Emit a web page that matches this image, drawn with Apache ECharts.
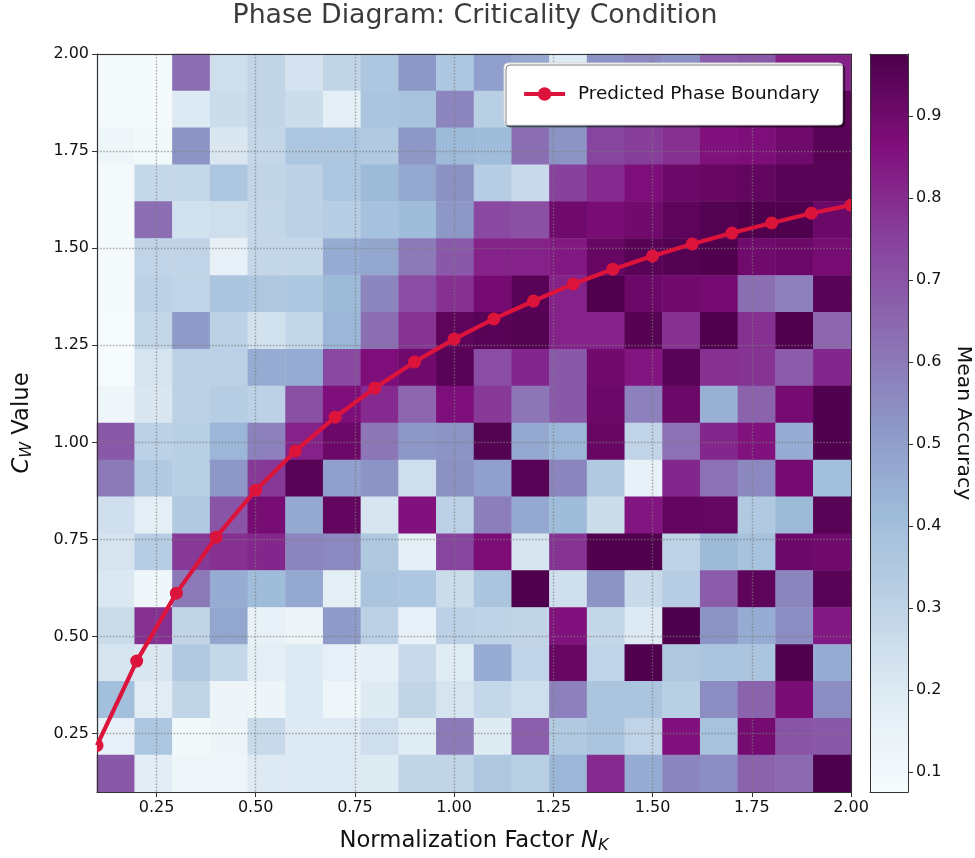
<!DOCTYPE html>
<html><head><meta charset="utf-8">
<style>html,body{margin:0;padding:0;background:#fff}#c{width:975px;height:858px}</style>
<script src="https://cdn.jsdelivr.net/npm/echarts@6/dist/echarts.min.js"></script>
</head><body><div id="c"></div>
<script>
const seriesName = 'Predicted Phase Boundary';
const titleText = 'Phase Diagram: Criticality Condition';
const tickLabels = [0.25,0.5,0.75,1.0,1.25,1.5,1.75,2.0];
const colorbarTicks = [0.1,0.2,0.3,0.4,0.5,0.6,0.7,0.8,0.9];
const bupu = ['#f7fcfd','#e0ecf4','#bfd3e6','#9ebcda','#8c96c6','#8c6bb1','#88419d','#810f7c','#4d004b'];
// Mean accuracy, rows from the top (Cw = 2.0) downwards, columns from Nk = 0.1
const accuracyRows = [
[.09,.09,.63,.25,.29,.23,.29,.36,.52,.36,.50,.47,.20,.53,.56,.54,.67,.69,.82,.82],
[.09,.09,.20,.26,.29,.26,.17,.37,.38,.57,.32,.42,.45,.62,.70,.74,.80,.84,.88,.94],
[.12,.10,.53,.21,.285,.36,.36,.35,.52,.42,.41,.63,.53,.74,.76,.79,.86,.87,.90,.95],
[.09,.28,.28,.36,.29,.31,.36,.42,.47,.54,.33,.27,.75,.80,.87,.91,.92,.93,.95,.95],
[.09,.63,.24,.25,.285,.31,.33,.39,.41,.52,.73,.71,.90,.88,.90,.94,.96,.97,.97,.91],
[.09,.295,.295,.16,.285,.285,.46,.48,.60,.69,.82,.82,.84,.92,.95,.96,.97,.90,.91,.885],
[.09,.31,.295,.37,.355,.36,.42,.57,.72,.79,.89,.95,.82,.97,.91,.90,.89,.63,.58,.95],
[.08,.285,.51,.31,.24,.285,.43,.63,.78,.94,.95,.96,.82,.82,.955,.79,.97,.79,.97,.65],
[.08,.225,.31,.31,.46,.46,.73,.87,.90,.95,.72,.81,.69,.90,.85,.95,.79,.78,.68,.81],
[.12,.21,.31,.33,.31,.71,.87,.80,.65,.87,.77,.61,.69,.91,.58,.91,.45,.66,.89,.97],
[.69,.31,.32,.43,.58,.82,.91,.61,.52,.53,.96,.47,.43,.92,.295,.62,.81,.86,.46,.97],
[.60,.35,.32,.52,.77,.95,.50,.53,.25,.54,.50,.95,.57,.345,.155,.81,.62,.56,.89,.40],
[.245,.175,.35,.70,.885,.47,.93,.22,.86,.31,.59,.47,.41,.26,.85,.93,.925,.345,.42,.95],
[.225,.33,.77,.79,.81,.57,.56,.355,.175,.74,.875,.22,.78,.97,.97,.30,.42,.385,.91,.90],
[.205,.11,.60,.46,.41,.47,.17,.37,.36,.265,.37,.97,.245,.53,.27,.33,.68,.94,.57,.95],
[.265,.79,.29,.48,.155,.125,.51,.31,.15,.31,.30,.29,.86,.285,.20,.976,.53,.46,.55,.84],
[.225,.21,.35,.28,.175,.20,.16,.165,.27,.19,.46,.295,.92,.295,.97,.355,.37,.37,.97,.46],
[.40,.185,.29,.125,.125,.20,.12,.195,.29,.225,.28,.25,.58,.37,.37,.32,.55,.66,.88,.55],
[.16,.36,.10,.125,.27,.20,.20,.25,.19,.60,.195,.67,.345,.37,.295,.86,.385,.89,.70,.69],
[.69,.18,.115,.12,.20,.20,.20,.195,.29,.29,.355,.32,.43,.80,.46,.57,.55,.66,.64,.976]
];
const boundaryX = [.1,.2,.3,.4,.5,.6,.7,.8,.9,1.0,1.1,1.2,1.3,1.4,1.5,1.6,1.7,1.8,1.9,2.0];
const boundaryY = [.22,.437,.612,.756,.877,.978,1.065,1.14,1.207,1.266,1.318,1.364,1.408,1.446,1.48,1.511,1.539,1.565,1.59,1.611];

const colIdx = accuracyRows[0].map((_, i) => String(i));
const rowIdx = accuracyRows.map((_, i) => String(i));
const cells = [];
accuracyRows.forEach((r, y) => r.forEach((v, x) => cells.push([x, y, v])));
const lastIdx = boundaryX.length - 1;
const crimson = '#DC143C';
// The two end markers sit on the plot edge and are cut by it, so they go in a clipped series.
const innerPoints = boundaryX.map((x, i) => (i === 0 || i === lastIdx)
  ? {value:[x, boundaryY[i]], symbol:'none'} : [x, boundaryY[i]]);
const endPoints = [[boundaryX[0], boundaryY[0]], [boundaryX[lastIdx], boundaryY[lastIdx]]];

const ink = '#111';
const spine = '#333';
const gridLine = {show:true, customValues:tickLabels, lineStyle:{color:'rgba(125,125,125,0.72)', width:1.4, type:[1.4,1.8]}};
const tick = {show:true, customValues:tickLabels, length:5, lineStyle:{color:spine, width:1}, inside:false};
const label = {show:true, customValues:tickLabels, color:ink, fontSize:16, fontFamily:'DejaVu Sans', margin:8,
  formatter:v=>Number(v).toFixed(2)};
const nameRich = {
  n:{fontFamily:'DejaVu Sans',fontSize:22.7,color:ink},
  i:{fontFamily:'DejaVu Sans', fontStyle:'italic', fontSize:22.7, color:ink},
  s:{fontFamily:'DejaVu Sans', fontStyle:'italic', fontSize:16, color:ink, verticalAlign:'bottom', padding:[9,0,0,0]}
};
const hidden = {show:false};
const chart = echarts.init(document.getElementById('c'), null, {renderer:'canvas'});
chart.setOption({
  animation:false,
  backgroundColor:'#fff',
  title:{text:titleText, left:470, top:-2, textAlign:'center',
    textStyle:{fontFamily:'DejaVu Sans', fontWeight:'normal', fontSize:26.8, color:'#3b3b3b'}},
  grid:[
    {left:97, top:54, width:754, height:738, containLabel:false, outerBoundsMode:'none'},
    {left:870, top:54, width:38, height:738, containLabel:false, outerBoundsMode:'none'}
  ],
  xAxis:[
    {gridIndex:0, type:'category', data:colIdx, position:'top', axisLine:{show:true,lineStyle:{color:spine,width:1}}, axisTick:hidden, axisLabel:hidden, splitLine:hidden, z:6},
    {gridIndex:0, type:'value', min:0.1, max:2.0, position:'bottom', axisLine:{show:true,onZero:false,lineStyle:{color:spine,width:1.2}},
      axisTick:tick, axisLabel:label, splitLine:gridLine, z:6,
      name:'{n|Normalization Factor }{i|N}{s|K}', nameLocation:'middle', nameGap:37,
      nameTextStyle:{rich:nameRich}},
    {gridIndex:1, type:'value', min:0, max:1, position:'bottom', axisLine:{show:true,onZero:false,lineStyle:{color:spine,width:1}}, axisTick:hidden, axisLabel:hidden, splitLine:hidden, z:6},
    {gridIndex:1, type:'value', min:0, max:1, position:'top', axisLine:{show:true,onZero:false,lineStyle:{color:spine,width:1}}, axisTick:hidden, axisLabel:hidden, splitLine:hidden, z:6}
  ],
  yAxis:[
    {gridIndex:0, type:'category', data:rowIdx, inverse:true, position:'right', axisLine:{show:true,lineStyle:{color:spine,width:1}}, axisTick:hidden, axisLabel:hidden, splitLine:hidden, z:6},
    {gridIndex:0, type:'value', min:0.1, max:2.0, position:'left', axisLine:{show:true,onZero:false,lineStyle:{color:spine,width:1.2}},
      axisTick:tick, axisLabel:Object.assign({}, label, {padding:[4,0,0,0]}), splitLine:gridLine, z:6,
      name:'{i|C}{s|W}{n| Value}', nameLocation:'middle', nameGap:62,
      nameTextStyle:{rich:nameRich}},
    {gridIndex:1, type:'value', min:0.076, max:0.976, position:'right', axisLine:{show:true,onZero:false,lineStyle:{color:spine,width:1}},
      axisTick:{show:true, customValues:colorbarTicks, length:5, lineStyle:{color:spine,width:1}},
      axisLabel:{show:true, customValues:colorbarTicks, color:ink, fontSize:16, fontFamily:'DejaVu Sans', margin:8, padding:[4,0,0,0], formatter:v=>Number(v).toFixed(1)},
      splitLine:hidden, z:6,
      name:'Mean Accuracy', nameLocation:'middle', nameGap:45, nameRotate:-90,
      nameTextStyle:{fontFamily:'DejaVu Sans', fontSize:20.3, color:ink}},
    {gridIndex:1, type:'value', min:0.076, max:0.976, position:'left', axisLine:{show:true,onZero:false,lineStyle:{color:spine,width:1}}, axisTick:hidden, axisLabel:hidden, splitLine:hidden, z:6}
  ],
  visualMap:{type:'continuous', seriesIndex:0, dimension:2, min:0.076, max:0.976, calculable:false, realtime:false,
    left:870, top:54, itemWidth:38, itemHeight:738, padding:0, text:null, showLabel:false,
    textStyle:{color:'transparent', fontSize:1}, handleSize:0, indicatorSize:0, inRange:{color:bupu}},
  legend:{show:true, left:504, top:63, data:[seriesName], itemWidth:41, itemHeight:17,
    padding:[22,23,22,18], backgroundColor:'#fff', borderColor:'#d5d5d5', borderWidth:1, borderRadius:4,
    shadowColor:'rgba(0,0,0,0.5)', shadowBlur:0, shadowOffsetX:2, shadowOffsetY:2, z:20,
    lineStyle:{width:4.2, color:crimson}, itemStyle:{color:crimson},
    textStyle:{fontFamily:'DejaVu Sans', fontSize:18.4, color:'#111', padding:[0,0,0,8]}},
  series:[
    {type:'heatmap', xAxisIndex:0, yAxisIndex:0, data:cells, z:1, progressive:0, itemStyle:{borderWidth:0}},
    {name:seriesName, type:'line', xAxisIndex:1, yAxisIndex:1, data:innerPoints, z:10, clip:true,
      smooth:false, symbol:'circle', symbolSize:13, showAllSymbol:true,
      lineStyle:{color:crimson, width:4.2}, itemStyle:{color:crimson}},
    {name:'ends', type:'custom', xAxisIndex:1, yAxisIndex:1, data:endPoints, z:10, clip:true,
      encode:{x:0, y:1}, silent:true,
      renderItem:(params, api) => {
        const p = api.coord([api.value(0), api.value(1)]);
        return {type:'circle', shape:{cx:p[0], cy:p[1], r:6.5}, style:{fill:crimson}};
      }}
  ]
});
</script></body></html>
